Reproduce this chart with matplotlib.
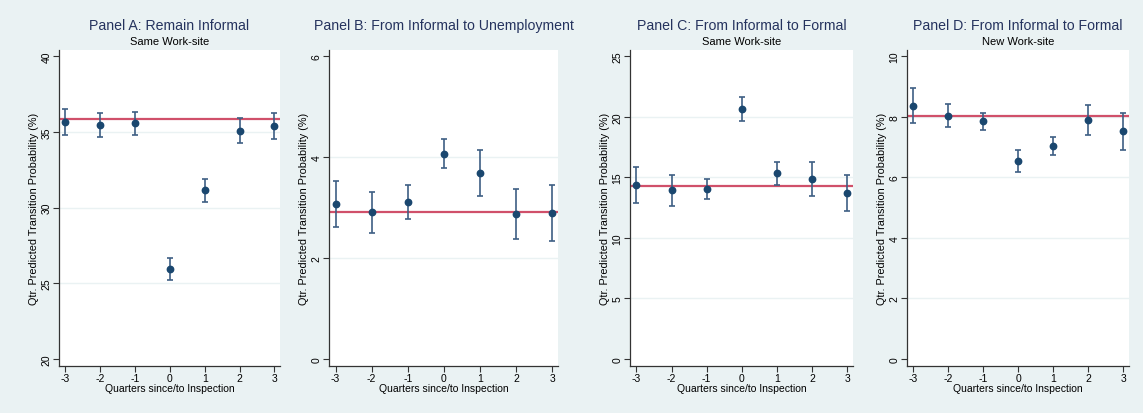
import numpy as np
import matplotlib
matplotlib.use("Agg")
import matplotlib.pyplot as plt

plt.rcParams['font.family'] = ['Liberation Sans', 'DejaVu Sans']
plt.rcParams['axes.unicode_minus'] = False

# quarters since / to inspection
quarters = [-3, -2, -1, 0, 1, 2, 3]

# Panel A: Remain Informal
a_est = [35.66, 35.46, 35.57, 25.95, 31.15, 35.09, 35.42]
a_lo = [34.80, 34.67, 34.80, 25.20, 30.38, 34.30, 34.56]
a_hi = [36.50, 36.24, 36.35, 26.70, 31.90, 35.90, 36.28]
a_ref = 35.85

# Panel B: From Informal to Unemployment
b_est = [3.07, 2.91, 3.11, 4.07, 3.69, 2.87, 2.89]
b_lo = [2.62, 2.50, 2.78, 3.78, 3.24, 2.38, 2.34]
b_hi = [3.52, 3.31, 3.44, 4.36, 4.14, 3.37, 3.44]
b_ref = 2.91

# Panel C: From Informal to Formal, same work-site
c_est = [14.37, 13.92, 14.06, 20.63, 15.33, 14.86, 13.73]
c_lo = [12.88, 12.65, 13.21, 19.65, 14.37, 13.46, 12.24]
c_hi = [15.86, 15.22, 14.89, 21.62, 16.27, 16.27, 15.20]
c_ref = 14.25

# Panel D: From Informal to Formal, new work-site
d_est = [8.36, 8.03, 7.85, 6.54, 7.04, 7.90, 7.52]
d_lo = [7.78, 7.65, 7.57, 6.18, 6.74, 7.40, 6.89]
d_hi = [8.94, 8.41, 8.13, 6.89, 7.32, 8.38, 8.13]
d_ref = 8.02

titles = ["Panel A: Remain Informal", "Panel B: From Informal to Unemployment",
          "Panel C: From Informal to Formal", "Panel D: From Informal to Formal"]
subtitles = ["Same Work-site", None, "Same Work-site", "New Work-site"]
yticks_all = [[20, 25, 30, 35, 40], [0, 2, 4, 6], [0, 5, 10, 15, 20, 25], [0, 2, 4, 6, 8, 10]]

panels = [(a_est, a_lo, a_hi, a_ref), (b_est, b_lo, b_hi, b_ref),
          (c_est, c_lo, c_hi, c_ref), (d_est, d_lo, d_hi, d_ref)]

W, H = 1143, 414
bg = '#EAF2F3'
navy = '#1a476f'
fig = plt.figure(figsize=(W / 100, H / 100), dpi=100, facecolor=bg)

# pixel boxes of the plot regions: left, right
boxes = [(59, 280), (329, 558), (630, 853), (907, 1129)]
top, bottom = 51, 367

for i, (est, lo, hi, ref) in enumerate(panels):
    l, r = boxes[i]
    ax = fig.add_axes([l / W, (H - bottom) / H, (r - l) / W, (bottom - top) / H])
    ax.set_facecolor('white')
    yt = yticks_all[i]
    rng = yt[-1] - yt[0]
    ax.set_ylim(yt[0] - 7 / 302.7 * rng, yt[-1] + 6.3 / 302.7 * rng)
    ax.set_xlim(-3.18, 3.16)

    for v in yt[1:-1]:
        ax.axhline(v, color='#EAF2F3', lw=1.0, zorder=0)

    est = np.array(est)
    err = [est - np.array(lo), np.array(hi) - est]
    ax.errorbar(quarters, est, yerr=err, fmt='none', ecolor='#3e5f84',
                elinewidth=1.2, capsize=2.3, capthick=1.2, zorder=2)
    ax.plot(quarters, est, 'o', color=navy, markersize=4.6, zorder=3)
    ax.axhline(ref, color='#d0506a', lw=1.6, zorder=1)

    ax.set_xticks(quarters)
    ax.set_yticks(yt)
    ax.tick_params(axis='both', labelsize=7.5, width=0.8, color='#333333')
    ax.tick_params(axis='y', length=4, pad=1.5)
    ax.tick_params(axis='x', length=4, pad=1)
    for lab in ax.get_yticklabels():
        lab.set_rotation(90)
        lab.set_va('center')
    for s in ['top', 'right']:
        ax.spines[s].set_visible(False)
    for s in ['left', 'bottom']:
        ax.spines[s].set_color('#333333')
        ax.spines[s].set_linewidth(0.9)

    ax.set_xlabel("Quarters since/to Inspection", fontsize=7.5, labelpad=0)
    ax.set_ylabel("Qtr. Predicted Transition Probability (%)", fontsize=7.8, labelpad=2)

    cx = (l + r) / 2 / W
    fig.text(cx, 1 - 26 / H, titles[i], ha='center', va='center', fontsize=10.2, color='#25335e')
    if subtitles[i]:
        fig.text(cx, 1 - 42 / H, subtitles[i], ha='center', va='center', fontsize=8, color='black')

fig.savefig("out.png", dpi=100, facecolor=bg)
